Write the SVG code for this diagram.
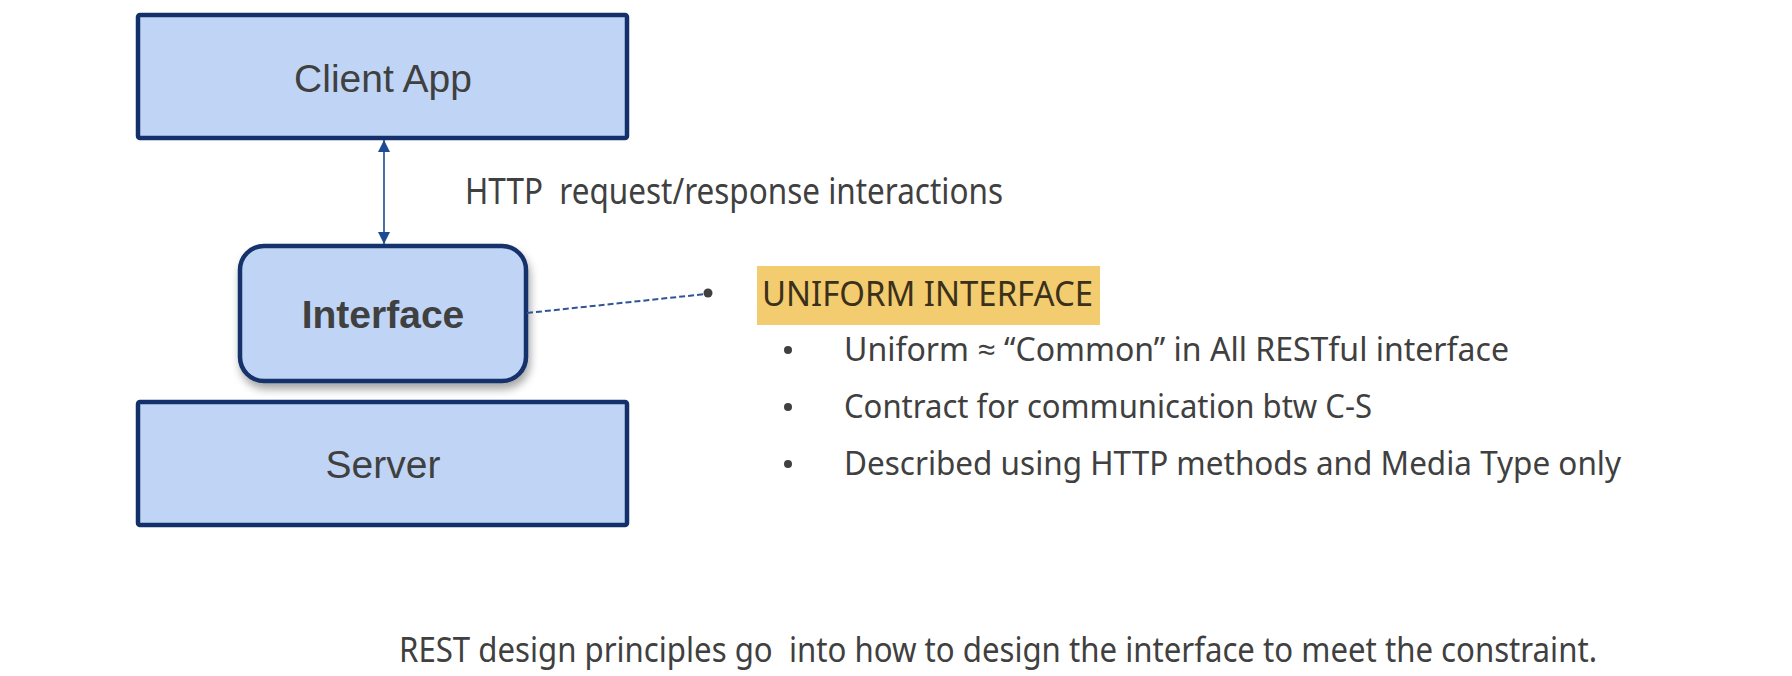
<svg xmlns="http://www.w3.org/2000/svg" width="1792" height="676" viewBox="0 0 1792 676">
<style>
.box{fill:#c0d5f5;stroke:#14306a;stroke-width:4.5}
.lbl{font-family:"Liberation Sans",Arial,sans-serif;font-size:39px;fill:#404040;text-anchor:middle}
.cond{font-family:"Noto Sans","Open Sans",sans-serif;fill:#404040;white-space:pre}
.dot{fill:#404040}
</style>
<defs>
<marker id="ah" viewBox="0 0 12 12" refX="12" refY="6" markerWidth="12" markerHeight="12" markerUnits="userSpaceOnUse" orient="auto-start-reverse">
<path d="M0,0 L12,6 L0,12 Z" fill="#1f4a94"/>
</marker>
<filter id="sh" x="-10%" y="-10%" width="125%" height="135%">
<feDropShadow dx="2" dy="6" stdDeviation="4" flood-color="#000" flood-opacity="0.35"/>
</filter>
</defs>
<rect width="1792" height="676" fill="#fff"/>
<g id="client">
<rect class="box" x="138" y="15" width="489" height="123" rx="2"/>
<text class="lbl" x="383" y="92">Client App</text>
</g>
<g id="interface">
<rect class="box" x="240" y="246" width="286" height="135" rx="24" filter="url(#sh)"/>
<text class="lbl" x="383" y="328" font-weight="bold">Interface</text>
</g>
<g id="server">
<rect class="box" x="138" y="402" width="489" height="123" rx="2"/>
<text class="lbl" x="383" y="478">Server</text>
</g>
<g id="connectors">
<line x1="384" y1="140" x2="384" y2="244" stroke="#1f4a94" stroke-width="1.6" marker-start="url(#ah)" marker-end="url(#ah)"/>
<line x1="527" y1="313" x2="706" y2="294" stroke="#2f5597" stroke-width="2" stroke-dasharray="6,3"/>
<circle class="dot" cx="708" cy="293" r="4.5"/>
</g>
<g id="http-label">
<text class="cond" x="465" y="204" font-size="36" textLength="538" lengthAdjust="spacingAndGlyphs" xml:space="preserve">HTTP  request/response interactions</text>
</g>
<g id="uniform">
<rect x="757" y="266" width="343" height="59" fill="#f2cc6e"/>
<text x="762" y="306" font-family="Noto Sans,Open Sans,sans-serif" font-size="34" fill="#3b301c" textLength="331" lengthAdjust="spacingAndGlyphs">UNIFORM INTERFACE</text>
<circle class="dot" cx="788" cy="350" r="4"/>
<text class="cond" x="844" y="361" font-size="32" textLength="665" lengthAdjust="spacingAndGlyphs">Uniform ≈ “Common” in All RESTful interface</text>
<circle class="dot" cx="788" cy="407" r="4"/>
<text class="cond" x="844" y="418" font-size="32" textLength="528" lengthAdjust="spacingAndGlyphs">Contract for communication btw C-S</text>
<circle class="dot" cx="788" cy="464" r="4"/>
<text class="cond" x="844" y="475" font-size="32" textLength="777" lengthAdjust="spacingAndGlyphs">Described using HTTP methods and Media Type only</text>
</g>
<g id="footer">
<text class="cond" x="399" y="662" font-size="34" textLength="1198" lengthAdjust="spacingAndGlyphs" xml:space="preserve">REST design principles go  into how to design the interface to meet the constraint.</text>
</g>
</svg>
